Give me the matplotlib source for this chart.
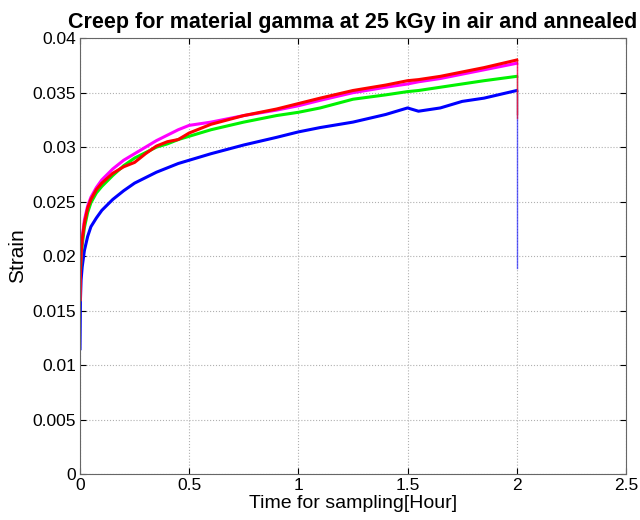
import matplotlib
matplotlib.use("Agg")
import matplotlib.pyplot as plt

# tiempo de muestreo (horas)
tiempo = [0, 0.002, 0.005, 0.01, 0.02, 0.035, 0.05, 0.075, 0.1, 0.15, 0.2,
          0.25, 0.3, 0.35, 0.4, 0.45, 0.5, 0.6, 0.75, 0.9, 1.0, 1.1, 1.25,
          1.4, 1.5, 1.55, 1.65, 1.75, 1.85, 2.0, 2.0]

deform_magenta = [0.016, 0.019, 0.0205, 0.0217, 0.0233, 0.0246, 0.0254, 0.0263,
                  0.0270, 0.0280, 0.0288, 0.0294, 0.0300, 0.0306, 0.0311, 0.0316,
                  0.0320, 0.0323, 0.0329, 0.0334, 0.0338, 0.0343, 0.0350, 0.0355,
                  0.0358, 0.0360, 0.0363, 0.0367, 0.0371, 0.0377, 0.0330]
deform_rojo = [0.016, 0.0188, 0.0203, 0.0215, 0.0230, 0.0244, 0.0252, 0.0261,
               0.0267, 0.0276, 0.0282, 0.0286, 0.0294, 0.0301, 0.0305, 0.0307,
               0.0313, 0.0321, 0.0329, 0.0335, 0.0340, 0.0345, 0.0352, 0.0357,
               0.0361, 0.0362, 0.0365, 0.0369, 0.0373, 0.0380, 0.0327]
deform_verde = [0.016, 0.0185, 0.0198, 0.0210, 0.0226, 0.0240, 0.0249, 0.0258,
                0.0264, 0.0274, 0.0283, 0.0290, 0.0295, 0.0300, 0.0303, 0.0307,
                0.0310, 0.0316, 0.0323, 0.0329, 0.0332, 0.0336, 0.0344, 0.0348,
                0.0351, 0.0352, 0.0355, 0.0358, 0.0361, 0.0365, 0.0330]
deform_azul = [0.0115, 0.016, 0.0178, 0.0190, 0.0205, 0.0218, 0.0227, 0.0235,
               0.0242, 0.0252, 0.0260, 0.0267, 0.0272, 0.0277, 0.0281, 0.0285,
               0.0288, 0.0294, 0.0302, 0.0309, 0.0314, 0.0318, 0.0323, 0.0330,
               0.0336, 0.0333, 0.0336, 0.0342, 0.0345, 0.0352, 0.0189]

plt.rcParams['font.family'] = ['Liberation Sans', 'DejaVu Sans']

fig = plt.figure(figsize=(6.4, 5.2), dpi=100)
ax = fig.add_axes([0.125, 0.0885, 0.853, 0.838])

curvas = [(deform_azul, (0, 0, 1)), (deform_verde, (0, 0.95, 0)),
          (deform_magenta, (1, 0, 1)), (deform_rojo, (1, 0, 0))]
for serie, color in curvas:
    # curva de fluencia y caida final al descargar (trazo fino)
    ax.plot(tiempo[:-1], serie[:-1], color=color, lw=2.2)
    ax.plot(tiempo[-2:], serie[-2:], color=color, lw=1.0, alpha=0.6)

ax.set_xlim(0, 2.5)
ax.set_ylim(0, 0.04)
ax.set_xticks([0, 0.5, 1, 1.5, 2, 2.5])
ax.set_xticklabels(['0', '0.5', '1', '1.5', '2', '2.5'])
ax.set_yticks([0, 0.005, 0.01, 0.015, 0.02, 0.025, 0.03, 0.035, 0.04])
ax.set_yticklabels(['0', '0.005', '0.01', '0.015', '0.02', '0.025', '0.03', '0.035', '0.04'])
ax.tick_params(direction='in', labelsize=12.5, length=4, pad=3, top=True, right=True)
ax.grid(True, linestyle=':', color='#b0b0b0', lw=0.8)
for s in ax.spines.values():
    s.set_color('#666666')

ax.set_title("Creep for material gamma at 25 kGy in air and annealed",
             fontsize=15.5, fontweight='bold', pad=7)
ax.set_xlabel("Time for sampling[Hour]", fontsize=14, labelpad=1)
ax.set_ylabel("Strain", fontsize=15, labelpad=4)

fig.savefig("out.png", dpi=100)
